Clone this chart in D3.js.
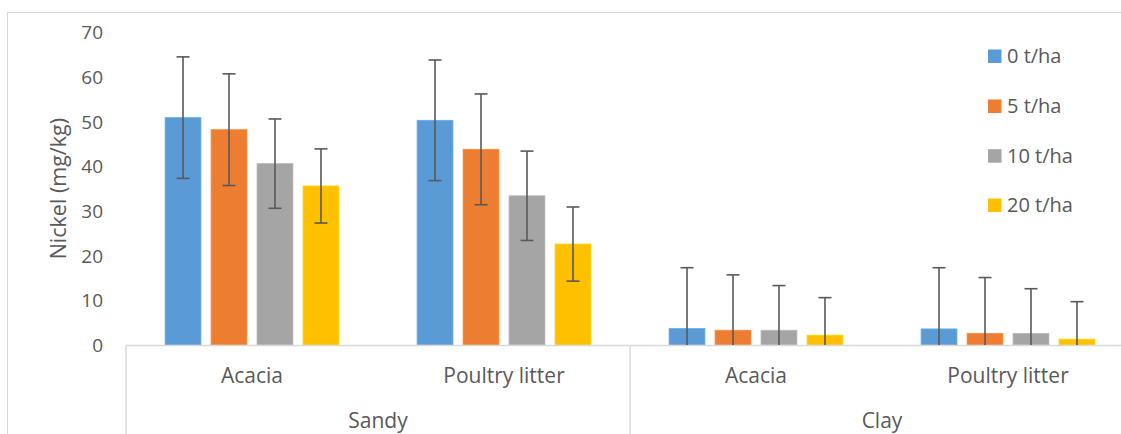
<!DOCTYPE html>
<html>
<head>
<meta charset="utf-8">
<script src="https://cdn.jsdelivr.net/npm/d3@7"></script>
<style>
  html, body { margin: 0; padding: 0; background: #fff; }
  svg { display: block; font-family: "Open Sans", "Noto Sans", sans-serif; }
</style>
</head>
<body>
<svg id="chart" width="1121" height="434"></svg>
<script>
// ---- data ----
const innerCategories = ["Acacia", "Poultry litter", "Acacia", "Poultry litter"];
const outerCategories = ["Sandy", "Clay"];
const seriesNames = ["0 t/ha", "5 t/ha", "10 t/ha", "20 t/ha"];
const seriesColors = ["#5B9BD5", "#ED7D31", "#A5A5A5", "#FFC000"];
const values0 = [50.9, 50.3, 3.7, 3.6];
const values5 = [48.2, 43.8, 3.3, 2.6];
const values10 = [40.6, 33.4, 3.3, 2.6];
const values20 = [35.6, 22.6, 2.2, 1.3];
const errors0 = [13.6, 13.5, 13.6, 13.7];
const errors5 = [12.5, 12.4, 12.4, 12.5];
const errors10 = [10.0, 10.0, 10.0, 10.0];
const errors20 = [8.3, 8.3, 8.4, 8.4];
const yTicks = [0, 10, 20, 30, 40, 50, 60, 70];
const yTitle = "Nickel (mg/kg)";

const seriesValues = [values0, values5, values10, values20];
const seriesErrors = [errors0, errors5, errors10, errors20];

// ---- layout ----
const svg = d3.select("#chart");
const plotLeft = 126, plotRight = 1134, yTop = 32.3, yBase = 345;
const textColor = "#595959";
const lineColor = "#D9D9D9";

// outer chart border
svg.append("rect").attr("x", 7.5).attr("y", 12.5).attr("width", 1200).attr("height", 500)
  .attr("fill", "none").attr("stroke", lineColor).attr("stroke-width", 1);

const y = d3.scaleLinear().domain([0, 70]).range([yBase, yTop]);
const x0 = d3.scaleBand().domain(d3.range(innerCategories.length)).range([plotLeft, plotRight]).padding(0);
const x1 = d3.scaleBand().domain(seriesNames).range([0, x0.bandwidth()]).paddingInner(0.22).paddingOuter(0.85);
const xOuter = d3.scaleBand().domain(outerCategories).range([plotLeft, plotRight]).padding(0);

// y axis labels
const yAxis = d3.axisLeft(y).tickValues(yTicks).tickSize(0).tickPadding(0);
const gy = svg.append("g").attr("transform", "translate(103,0)").call(yAxis);
gy.select(".domain").remove();
gy.selectAll("text").attr("fill", textColor).attr("font-size", 19)
  .attr("font-family", "'Open Sans', sans-serif").attr("dy", "0.35em");

// y title
svg.append("text").attr("transform", `translate(66,${(yTop + yBase) / 2}) rotate(-90)`)
  .attr("text-anchor", "middle").attr("fill", textColor).attr("font-size", 21.5)
  .text(yTitle);

// bars
const clip = svg.append("clipPath").attr("id", "plotclip").append("rect")
  .attr("x", plotLeft).attr("y", 0).attr("width", plotRight - plotLeft).attr("height", yBase);

const barsG = svg.append("g");
seriesNames.forEach((s, si) => {
  const g = barsG.append("g");
  g.selectAll("rect").data(seriesValues[si]).join("rect")
    .attr("x", (d, i) => x0(i) + x1(s))
    .attr("y", d => y(d))
    .attr("width", x1.bandwidth())
    .attr("height", d => yBase - y(d))
    .attr("fill", seriesColors[si])
    .attr("stroke", d3.color(seriesColors[si]).brighter(0.3))
    .attr("stroke-width", 0.8);
});

// category axis lines
svg.append("line").attr("x1", plotLeft).attr("x2", 1121).attr("y1", yBase + 0.5).attr("y2", yBase + 0.5)
  .attr("stroke", lineColor).attr("stroke-width", 1.5);
[plotLeft, xOuter("Clay")].forEach(xx => {
  svg.append("line").attr("x1", xx).attr("x2", xx).attr("y1", yBase).attr("y2", 434)
    .attr("stroke", lineColor).attr("stroke-width", 1.5);
});

// error bars
const errG = svg.append("g").attr("clip-path", "url(#plotclip)");
seriesNames.forEach((s, si) => {
  seriesValues[si].forEach((v, i) => {
    const cx = x0(i) + x1(s) + x1.bandwidth() / 2;
    const e = seriesErrors[si][i];
    const hi = y(v + e), lo = y(v - e);
    errG.append("line").attr("x1", cx).attr("x2", cx).attr("y1", hi).attr("y2", lo)
      .attr("stroke", "#595959").attr("stroke-width", 1.6);
    errG.append("line").attr("x1", cx - 6.5).attr("x2", cx + 6.5).attr("y1", hi).attr("y2", hi)
      .attr("stroke", "#595959").attr("stroke-width", 1.6);
    if (v - e >= 0) {
      errG.append("line").attr("x1", cx - 6.5).attr("x2", cx + 6.5).attr("y1", lo).attr("y2", lo)
        .attr("stroke", "#595959").attr("stroke-width", 1.6);
    }
  });
});

// inner category labels
svg.append("g").selectAll("text").data(innerCategories).join("text")
  .attr("x", (d, i) => x0(i) + x0.bandwidth() / 2)
  .attr("y", 383)
  .attr("text-anchor", "middle").attr("fill", textColor).attr("font-size", 21)
  .text(d => d);

// outer category labels
svg.append("g").selectAll("text").data(outerCategories).join("text")
  .attr("x", d => xOuter(d) + xOuter.bandwidth() / 2)
  .attr("y", 428)
  .attr("text-anchor", "middle").attr("fill", textColor).attr("font-size", 21)
  .text(d => d);

// legend
const legendY = [56, 106, 155.7, 205];
const legend = svg.append("g");
seriesNames.forEach((s, si) => {
  legend.append("rect").attr("x", 988).attr("y", legendY[si] - 6.5).attr("width", 13.5).attr("height", 13.5)
    .attr("fill", seriesColors[si]);
  legend.append("text").attr("x", 1007).attr("y", legendY[si]).attr("dy", "0.35em")
    .attr("fill", textColor).attr("font-size", 20).text(s);
});
</script>
</body>
</html>
